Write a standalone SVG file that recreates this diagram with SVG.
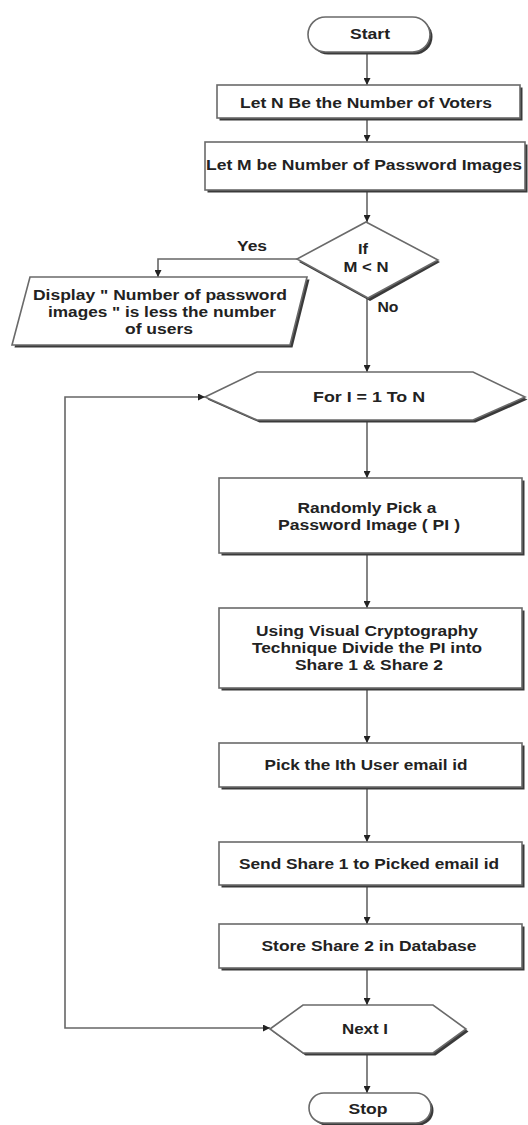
<svg xmlns="http://www.w3.org/2000/svg" width="528" height="1125" viewBox="0 0 528 1125">
<style>
.sh{fill:#3a3a3a;stroke:none}
.nd{fill:#ffffff;stroke:#6a6a6a;stroke-width:1.6}
.t{font-family:"Liberation Sans",Arial,sans-serif;font-weight:bold;font-size:14px;fill:#222;text-anchor:middle}
.c{fill:none;stroke:#666;stroke-width:1.6}
</style>
<defs>
<marker id="ah" viewBox="0 0 10 10" refX="10" refY="5" markerWidth="7" markerHeight="7" markerUnits="userSpaceOnUse" orient="auto-start-reverse">
<path d="M0,0 L10,5 L0,10 z" fill="#222"/>
</marker>
</defs>
<rect width="528" height="1125" fill="#ffffff"/>
<g id="connectors">
<line class="c" x1="367" y1="52" x2="367" y2="85" marker-end="url(#ah)"/>
<line class="c" x1="367" y1="118" x2="367" y2="142" marker-end="url(#ah)"/>
<line class="c" x1="367" y1="190" x2="367" y2="222" marker-end="url(#ah)"/>
<polyline class="c" points="297,259 158,259 158,277" marker-end="url(#ah)"/>
<line class="c" x1="367" y1="298" x2="367" y2="372" marker-end="url(#ah)"/>
<line class="c" x1="367" y1="420" x2="367" y2="478" marker-end="url(#ah)"/>
<line class="c" x1="367" y1="553" x2="367" y2="608" marker-end="url(#ah)"/>
<line class="c" x1="367" y1="688" x2="367" y2="743" marker-end="url(#ah)"/>
<line class="c" x1="367" y1="787" x2="367" y2="842" marker-end="url(#ah)"/>
<line class="c" x1="367" y1="885" x2="367" y2="924" marker-end="url(#ah)"/>
<line class="c" x1="367" y1="968" x2="367" y2="1005" marker-end="url(#ah)"/>
<line class="c" x1="367" y1="1053" x2="367" y2="1093" marker-end="url(#ah)"/>
<polyline class="c" points="270,1028 65,1028 65,397 205,397" marker-start="url(#ah)" marker-end="url(#ah)"/>
<text class="t" x="252" y="251" textLength="30" lengthAdjust="spacingAndGlyphs">Yes</text>
<text class="t" x="388" y="312" textLength="21" lengthAdjust="spacingAndGlyphs">No</text>
</g>
<g id="start">
<rect class="sh" x="310.5" y="19.5" width="122" height="35" rx="17.5"/>
<rect class="nd" x="308" y="17" width="122" height="35" rx="17.5"/>
<text class="t" x="370" y="39" textLength="40" lengthAdjust="spacingAndGlyphs">Start</text>
</g>
<g id="let-n">
<rect class="sh" x="219.5" y="87.5" width="303" height="33"/>
<rect class="nd" x="217" y="85" width="303" height="33"/>
<text class="t" x="366" y="108" textLength="252" lengthAdjust="spacingAndGlyphs">Let N Be the Number of Voters</text>
</g>
<g id="let-m">
<rect class="sh" x="207.5" y="144.5" width="320" height="48"/>
<rect class="nd" x="205" y="142" width="320" height="48"/>
<text class="t" x="364" y="170" textLength="316" lengthAdjust="spacingAndGlyphs">Let M be Number of Password Images</text>
</g>
<g id="decision">
<polygon class="sh" points="368,225 440,262 370,301 299,262"/>
<polygon class="nd" points="366,222 438,260 368,298 297,259"/>
<text class="t" x="363" y="254" textLength="10" lengthAdjust="spacingAndGlyphs">If</text>
<text class="t" x="366" y="272" textLength="45" lengthAdjust="spacingAndGlyphs">M &lt; N</text>
</g>
<g id="display">
<polygon class="sh" points="32.5,279.5 309.5,279.5 292.5,347.5 14.5,347.5"/>
<polygon class="nd" points="30,277 307,277 290,345 12,345"/>
<text class="t" x="160" y="300" textLength="254" lengthAdjust="spacingAndGlyphs">Display " Number of password</text>
<text class="t" x="162" y="317" textLength="228" lengthAdjust="spacingAndGlyphs">images " is less the number</text>
<text class="t" x="159" y="334" textLength="68" lengthAdjust="spacingAndGlyphs">of users</text>
</g>
<g id="for-loop">
<polygon class="sh" points="207.5,399.5 259.5,374.5 475.5,374.5 527.5,399.5 475.5,422.5 259.5,422.5"/>
<polygon class="nd" points="205,397 257,372 473,372 525,397 473,420 257,420"/>
<text class="t" x="369" y="402" textLength="112" lengthAdjust="spacingAndGlyphs">For I = 1 To N</text>
</g>
<g id="random-pick">
<rect class="sh" x="221.5" y="480.5" width="303" height="75"/>
<rect class="nd" x="219" y="478" width="303" height="75"/>
<text class="t" x="367" y="513" textLength="139" lengthAdjust="spacingAndGlyphs">Randomly Pick a</text>
<text class="t" x="369" y="530" textLength="182" lengthAdjust="spacingAndGlyphs">Password Image ( PI )</text>
</g>
<g id="visual-crypto">
<rect class="sh" x="221.5" y="610.5" width="303" height="80"/>
<rect class="nd" x="219" y="608" width="303" height="80"/>
<text class="t" x="367" y="636" textLength="222" lengthAdjust="spacingAndGlyphs">Using Visual Cryptography</text>
<text class="t" x="367" y="653" textLength="230" lengthAdjust="spacingAndGlyphs">Technique Divide the PI into</text>
<text class="t" x="369" y="670" textLength="148" lengthAdjust="spacingAndGlyphs">Share 1 &amp; Share 2</text>
</g>
<g id="pick-user">
<rect class="sh" x="221.5" y="745.5" width="303" height="44"/>
<rect class="nd" x="219" y="743" width="303" height="44"/>
<text class="t" x="366" y="770" textLength="203" lengthAdjust="spacingAndGlyphs">Pick the Ith User email id</text>
</g>
<g id="send-share">
<rect class="sh" x="221.5" y="844.5" width="303" height="43"/>
<rect class="nd" x="219" y="842" width="303" height="43"/>
<text class="t" x="369" y="869" textLength="260" lengthAdjust="spacingAndGlyphs">Send Share 1 to Picked email id</text>
</g>
<g id="store-share">
<rect class="sh" x="221.5" y="926.5" width="303" height="44"/>
<rect class="nd" x="219" y="924" width="303" height="44"/>
<text class="t" x="369" y="951" textLength="215" lengthAdjust="spacingAndGlyphs">Store Share 2 in Database</text>
</g>
<g id="next-i">
<polygon class="sh" points="272.5,1031.5 305.5,1007.5 435.5,1007.5 468.5,1031.5 435.5,1055.5 305.5,1055.5"/>
<polygon class="nd" points="270,1029 303,1005 433,1005 466,1029 433,1053 303,1053"/>
<text class="t" x="365" y="1034" textLength="46" lengthAdjust="spacingAndGlyphs">Next I</text>
</g>
<g id="stop">
<rect class="sh" x="311.5" y="1095.5" width="122" height="30" rx="15"/>
<rect class="nd" x="309" y="1093" width="122" height="30" rx="15"/>
<text class="t" x="368" y="1114" textLength="39" lengthAdjust="spacingAndGlyphs">Stop</text>
</g>
</svg>
